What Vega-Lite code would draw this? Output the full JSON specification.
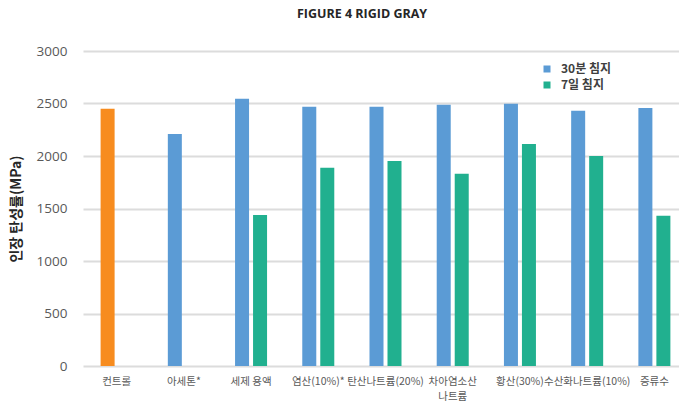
{
  "$schema": "https://vega.github.io/schema/vega-lite/v6.json",
  "width": 596,
  "height": 315,
  "autosize": {"type": "none"},
  "padding": {"left": 83, "top": 51, "right": 0, "bottom": 35},
  "background": "white",
  "title": {
    "text": "FIGURE 4 RIGID GRAY",
    "anchor": "middle",
    "font": "Open Sans",
    "fontSize": 12.5,
    "fontWeight": "bold",
    "color": "#262626",
    "dx": -19,
    "offset": 24
  },
  "data": {
    "values": [
      {"category": "컨트롤", "series": "30분 침지", "group": "컨트롤", "value": 2450},
      {"category": "아세톤*", "series": "30분 침지", "group": "30분 침지", "value": 2210},
      {"category": "세제 용액", "series": "30분 침지", "group": "30분 침지", "value": 2545},
      {"category": "세제 용액", "series": "7일 침지", "group": "7일 침지", "value": 1438},
      {"category": "염산(10%)*", "series": "30분 침지", "group": "30분 침지", "value": 2468},
      {"category": "염산(10%)*", "series": "7일 침지", "group": "7일 침지", "value": 1888},
      {"category": "탄산나트륨(20%)", "series": "30분 침지", "group": "30분 침지", "value": 2468},
      {"category": "탄산나트륨(20%)", "series": "7일 침지", "group": "7일 침지", "value": 1952},
      {"category": "차아염소산나트륨", "series": "30분 침지", "group": "30분 침지", "value": 2487},
      {"category": "차아염소산나트륨", "series": "7일 침지", "group": "7일 침지", "value": 1830},
      {"category": "황산(30%)", "series": "30분 침지", "group": "30분 침지", "value": 2497},
      {"category": "황산(30%)", "series": "7일 침지", "group": "7일 침지", "value": 2115},
      {"category": "수산화나트륨(10%)", "series": "30분 침지", "group": "30분 침지", "value": 2430},
      {"category": "수산화나트륨(10%)", "series": "7일 침지", "group": "7일 침지", "value": 2000},
      {"category": "증류수", "series": "30분 침지", "group": "30분 침지", "value": 2458},
      {"category": "증류수", "series": "7일 침지", "group": "7일 침지", "value": 1430}
    ]
  },
  "mark": {"type": "bar"},
  "encoding": {
    "x": {
      "field": "category",
      "type": "nominal",
      "sort": ["컨트롤", "아세톤*", "세제 용액", "염산(10%)*", "탄산나트륨(20%)", "차아염소산나트륨", "황산(30%)", "수산화나트륨(10%)", "증류수"],
      "scale": {"range": [0, 605], "paddingInner": 0, "paddingOuter": 0},
      "axis": {
        "title": null,
        "labelAngle": 0,
        "domain": false,
        "ticks": false,
        "labelFont": "Noto Sans CJK KR",
        "labelFontSize": 10.5,
        "labelColor": "#595959",
        "labelPadding": 10,
        "labelLineHeight": 15,
        "labelExpr": "datum.value == '차아염소산나트륨' ? ['차아염소산', '나트륨'] : datum.label"
      }
    },
    "xOffset": {
      "field": "series",
      "type": "nominal",
      "scale": {"domain": ["30분 침지", "7일 침지"], "paddingInner": 0.222, "paddingOuter": 0.978}
    },
    "y": {
      "field": "value",
      "type": "quantitative",
      "scale": {"domain": [0, 3000], "nice": false},
      "axis": {
        "title": "인장 탄성률(MPa)",
        "titleFont": "Noto Sans CJK KR",
        "titleFontSize": 14,
        "titleFontWeight": "bold",
        "titleColor": "#262626",
        "titlePadding": 13,
        "values": [0, 500, 1000, 1500, 2000, 2500, 3000],
        "format": "d",
        "labelFont": "Open Sans",
        "labelFontSize": 13.5,
        "labelColor": "#595959",
        "labelPadding": 16,
        "domain": false,
        "ticks": false,
        "grid": true,
        "gridColor": "#dcdcdc",
        "gridWidth": 2
      }
    },
    "color": {
      "field": "group",
      "type": "nominal",
      "scale": {"domain": ["30분 침지", "7일 침지", "컨트롤"], "range": ["#5B9BD5", "#21B08F", "#F78C1F"]},
      "legend": {
        "values": ["30분 침지", "7일 침지"],
        "title": null,
        "orient": "none",
        "legendX": 458,
        "legendY": 12,
        "symbolType": "square",
        "symbolSize": 49,
        "symbolStrokeWidth": 0,
        "labelFont": "Noto Sans CJK KR",
        "labelFontSize": 12,
        "labelFontWeight": "bold",
        "labelColor": "#404040",
        "labelOffset": 8,
        "rowPadding": 4
      }
    }
  },
  "config": {"view": {"stroke": null}}
}
